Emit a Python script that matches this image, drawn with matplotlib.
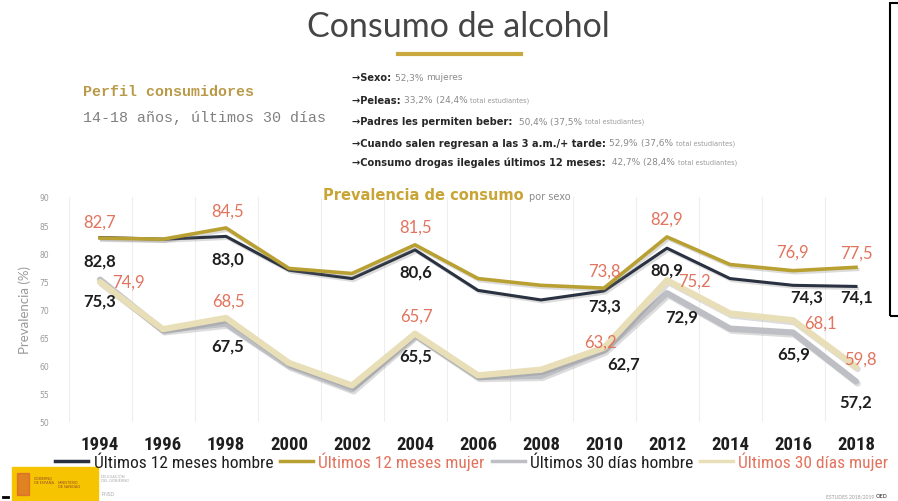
import matplotlib
matplotlib.use("Agg")
import matplotlib.pyplot as plt
import matplotlib.patheffects as pe
from matplotlib import font_manager
from matplotlib.lines import Line2D
from matplotlib.patches import Rectangle

# Prevalencia de consumo de alcohol por sexo (%), estudiantes 14-18 años
years = ["1994", "1996", "1998", "2000", "2002", "2004", "2006",
         "2008", "2010", "2012", "2014", "2016", "2018"]
hombre_12m = [82.8, 82.5, 83.0, 77.0, 75.5, 80.6, 73.4, 71.7, 73.3, 80.9, 75.5, 74.3, 74.1]
mujer_12m = [82.7, 82.5, 84.5, 77.3, 76.4, 81.5, 75.5, 74.3, 73.8, 82.9, 78.0, 76.9, 77.5]
hombre_30d = [75.3, 66.3, 67.5, 60.0, 55.8, 65.5, 58.0, 58.2, 62.7, 72.9, 66.6, 65.9, 57.2]
mujer_30d = [74.9, 66.5, 68.5, 60.5, 56.5, 65.7, 58.3, 59.3, 63.2, 75.2, 69.3, 68.1, 59.8]
labelled = [0, 2, 5, 8, 9, 11, 12]

series_names = ["Últimos 12 meses hombre", "Últimos 12 meses mujer",
                "Últimos 30 días hombre", "Últimos 30 días mujer"]

perfil = [
    ("→Sexo: ", "52,3% ", "mujeres", ""),
    ("→Peleas: ", "33,2% ", "(24,4% ", "total estudiantes)"),
    ("→Padres les permiten beber: ", " 50,4% ", "(37,5% ", "total estudiantes)"),
    ("→Cuando salen regresan a las 3 a.m./+ tarde: ", "52,9% ", "(37,6% ", "total estudiantes)"),
    ("→Consumo drogas ilegales últimos 12 meses: ", " 42,7% ", "(28,4% ", "total estudiantes)"),
]

NAVY = "#2a3140"
GOLD = "#b9a032"
GRAY = "#bdbfc4"
BEIGE = "#e8dfb8"
SALMON = "#e2735d"
DARK = "#1e1e1e"

W, H = 898, 502
fig = plt.figure(figsize=(W / 100, H / 100), dpi=100)
fig.patch.set_facecolor("white")


def fx(x):
    return x / W


def fy(y):
    return 1 - y / H


SANS = ["Lato", "DejaVu Sans"]
WIDE = ["DejaVu Sans"]
MONO = ["Liberation Mono", "DejaVu Sans Mono"]

# pick a narrow face for years and legend if one is around
installed = {f.name for f in font_manager.fontManager.ttflist}
NARROW = None
for name in ["Liberation Sans Narrow", "DejaVu Sans Condensed", "Roboto Condensed",
             "Open Sans Condensed"]:
    if name in installed:
        NARROW = name
        break
if NARROW is None:
    NARROW = "Roboto"
    year_size, leg_size = 12.5, 11.5
else:
    year_size, leg_size = 13.5, 12.5

# title block
fig.text(fx(458), fy(27), "Consumo de alcohol", family=SANS, fontsize=24.5,
         color="#454545", ha="center", va="center")
fig.add_artist(Line2D([fx(398), fx(521)], [fy(55), fy(55)], color="#c9a93e", lw=3))

fig.text(fx(83), fy(92), "Perfil consumidores", family=MONO, fontsize=10.8,
         fontweight="bold", color="#b89a48", ha="left", va="center")
fig.text(fx(83), fy(118), "14-18 años, últimos 30 días", family=MONO, fontsize=10.8,
         color="#808080", ha="left", va="center")

# profile bullet list, pieces placed one after another
renderer = fig.canvas.get_renderer()
bullet_y = [78, 101, 122, 144, 163]
for (lab, val, extra, small), yy in zip(perfil, bullet_y):
    x = fx(352)
    pieces = [(lab, 7.1, "bold", "#262626"), (val, 6.5, "normal", "#8a8a8a"),
              (extra, 6.5, "normal", "#8a8a8a"), (small, 4.8, "normal", "#9a9a9a")]
    for txt, size, weight, col in pieces:
        if not txt:
            continue
        t = fig.text(x, fy(yy), txt, family=WIDE, fontsize=size, fontweight=weight,
                     color=col, ha="left", va="center")
        x += t.get_window_extent(renderer).width / W

sub = fig.text(fx(323), fy(195), "Prevalencia de consumo ", family=WIDE, fontsize=10.5,
               fontweight="bold", color="#c8a536", ha="left", va="center")
fig.text(fx(323) + sub.get_window_extent(renderer).width / W, fy(197), "por sexo",
         family=WIDE, fontsize=7, color="#8a8a8a", ha="left", va="center")

# chart
ax = fig.add_axes([fx(68.5), fy(423), (887.5 - 68.5) / W, (423 - 198) / H])
xs = list(range(len(years)))
shadow = [pe.SimpleLineShadow(offset=(1.2, -1.5), shadow_color="#777777", alpha=0.25),
          pe.Normal()]
ax.plot(xs, hombre_30d, color=GRAY, lw=4.5, solid_capstyle="round", path_effects=shadow, zorder=2)
ax.plot(xs, mujer_30d, color=BEIGE, lw=4.5, solid_capstyle="round", path_effects=shadow, zorder=2)
ax.plot(xs, hombre_12m, color=NAVY, lw=2.2, path_effects=shadow, zorder=3)
ax.plot(xs, mujer_12m, color=GOLD, lw=2.6, path_effects=shadow, zorder=3)

ax.set_xlim(-0.5, len(years) - 0.5)
ax.set_ylim(50, 90)
ax.set_yticks(range(50, 91, 5))
ax.set_xticks(xs)
ax.set_xticklabels(years)
ax.set_xticks([i - 0.5 for i in range(len(years) + 1)], minor=True)
ax.grid(True, which="minor", axis="x", color="#eeeeee", lw=0.8)
ax.tick_params(axis="x", which="both", length=0, pad=9)
ax.tick_params(axis="y", length=0, pad=14, labelsize=5.5, labelcolor="#9a9a9a")
for lab in ax.get_xticklabels():
    lab.set_family(NARROW)
    lab.set_fontsize(year_size)
    lab.set_fontweight("bold")
    lab.set_color(DARK)
for s in ax.spines.values():
    s.set_visible(False)
ax.set_ylabel("Prevalencia (%)", family=SANS, fontsize=9.5, color="#999999", labelpad=6)

# value labels, offsets in pixels
offsets_m12 = [(0, -16), (2, -17), (1, -18), (0, -17), (0, -18), (-1, -19), (0, -15)]
offsets_h12 = [(0, 23), (2, 22), (1, 22), (1, 15), (0, 21), (14, 11), (1, 10)]
offsets_m30 = [(28, 0), (2, -17), (1, -18), (-4, -6), (27, 0), (27, 2), (4, -8)]
offsets_h30 = [(0, 21), (2, 22), (1, 21), (20, 13), (15, 23), (1, 21), (0, 20)]


def label_series(vals, offsets, color, weight):
    for i, (dx, dy) in zip(labelled, offsets):
        ax.annotate(f"{vals[i]:.1f}".replace(".", ","), (i, vals[i]),
                    xytext=(dx * 0.72, -dy * 0.72), textcoords="offset points",
                    ha="center", va="center", family=SANS, fontsize=12,
                    fontweight=weight, color=color, zorder=5)


label_series(mujer_12m, offsets_m12, SALMON, "normal")
label_series(hombre_12m, offsets_h12, DARK, "bold")
label_series(mujer_30d, offsets_m30, SALMON, "normal")
label_series(hombre_30d, offsets_h30, DARK, "bold")

handles = [Line2D([], [], color=c, lw=2.5) for c in (NAVY, GOLD, GRAY, BEIGE)]
leg = fig.legend(handles, series_names, ncol=4, loc="center",
                 bbox_to_anchor=(fx(472), fy(462)), frameon=False,
                 handlelength=1.9, handletextpad=0.3, columnspacing=0.4,
                 borderaxespad=0, borderpad=0, prop={"family": NARROW, "size": leg_size})
for t, c in zip(leg.get_texts(), (DARK, SALMON, DARK, SALMON)):
    t.set_color(c)

# side frame on the right edge
fig.add_artist(Rectangle((fx(890), fy(317)), 0.05, fy(4) - fy(317), fill=False,
                         ec="black", lw=1.5, transform=fig.transFigure))

# footer: ministry logo and source
fig.add_artist(Rectangle((fx(12), 0), fx(98) - fx(12), fy(468), color="#f6c400",
                         transform=fig.transFigure))
fig.add_artist(Rectangle((fx(17), fy(496)), fx(12), fy(474) - fy(496), color="#d2553a",
                         alpha=0.6, transform=fig.transFigure))
fig.text(fx(34), fy(481), "GOBIERNO\nDE ESPAÑA", family=SANS, fontsize=2.6,
         color="#9a4a2a", ha="left", va="center", linespacing=1.1)
fig.text(fx(58), fy(485), "MINISTERIO\nDE SANIDAD", family=SANS, fontsize=2.6,
         color="#9a4a2a", ha="left", va="center", linespacing=1.1)
fig.text(fx(101), fy(479), "DELEGACIÓN\nDEL GOBIERNO", family=SANS, fontsize=2.8,
         color="#aaaaaa", ha="left", va="center", linespacing=1.1)
fig.text(fx(101), fy(495), "PNSD", family=SANS, fontsize=3.5,
         color="#aaaaaa", ha="left", va="center")
fig.add_artist(Line2D([fx(3), fx(8)], [fy(498), fy(498)], color="black", lw=2))
fig.text(fx(874), fy(497), "ESTUDES 2018/2019", family=SANS, fontsize=3.6,
         color="#999999", ha="right", va="center")
fig.text(fx(876), fy(497), "OED", family=SANS, fontsize=4, fontweight="bold",
         color="#555555", ha="left", va="center")

fig.savefig("out.png", dpi=100, facecolor="white")
